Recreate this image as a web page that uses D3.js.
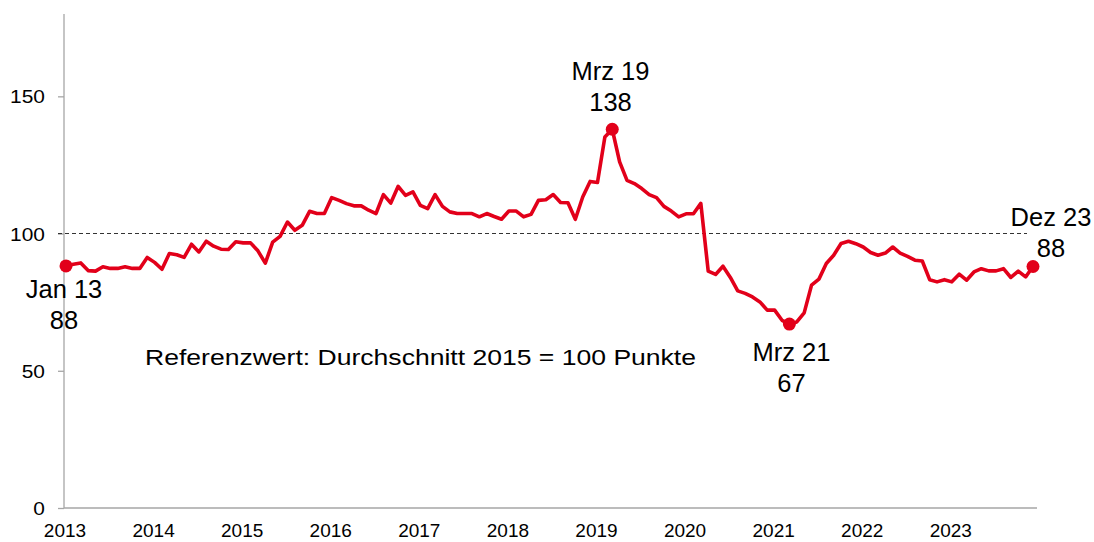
<!DOCTYPE html>
<html><head><meta charset="utf-8">
<script src="https://cdn.jsdelivr.net/npm/d3@7"></script>
<style>
html,body{margin:0;padding:0;background:#fff;}
svg{display:block;font-family:"Liberation Sans",Arial,sans-serif;}
</style></head>
<body>
<svg id="chart" width="1094" height="542"></svg>
<script>
// Monthly index values Jan 2013 .. Dec 2023 (2015 = 100)
const startYear = 2013;
const values2013_2015 = [88.2,88.8,89.3,86.5,86.3,87.9,87.3,87.3,87.9,87.3,87.3,91.3,
  89.5,87.0,92.7,92.3,91.3,96.1,93.3,97.2,95.4,94.3,94.2,97.0,
  96.6,96.6,93.7,89.2,96.9,99.0,104.2,101.2,103.0,108.1,107.3,107.3];
const values2016_2018 = [113.1,112.1,110.9,110.1,110.1,108.5,107.3,114.2,111.1,117.2,113.9,115.2,
  110.3,109.1,114.2,109.9,107.9,107.3,107.3,107.3,106.1,107.3,106.2,105.2,
  108.2,108.2,106.1,107.0,112.1,112.3,114.2,111.3,111.2,105.2,113.3,119.0];
const values2019_2021 = [118.6,135.2,138,126.1,119.4,118.2,116.4,114.2,113.1,109.9,108.2,106.1,
  107.2,107.2,111.0,86.3,85.1,88.1,84.0,79.1,78.2,76.9,75.1,72.1,
  72.1,68.4,67,67.8,71.1,81.2,83.4,89.1,92.1,96.4,97.2,96.3];
const values2022_2023 = [95.1,93.1,92.1,92.9,95.1,92.9,91.7,90.3,90.0,83.2,82.4,83.2,
  82.4,85.2,83.0,86.0,87.2,86.4,86.4,87.2,84.0,86.3,84.2,88];
const values = [...values2013_2015, ...values2016_2018, ...values2019_2021, ...values2022_2023];

const yearLabels = ["2013","2014","2015","2016","2017","2018","2019","2020","2021","2022","2023"];
const yTicks = [0, 50, 100, 150];
const referenceValue = 100;
const referenceText = "Referenzwert: Durchschnitt 2015 = 100 Punkte";

// highlighted points: month index, label, value label
const highlightIdx = [0, 74, 98, 131];
const highlightNames = ["Jan 13", "Mrz 19", "Mrz 21", "Dez 23"];
const highlightValues = ["88", "138", "67", "88"];

const svg = d3.select("#chart");
const red = "#e2001a";
const axisGrey = "#a6a6a6";

const x = d3.scaleLinear().domain([0, 131]).range([66, 1033]);
const y = d3.scaleLinear().domain([0, 180]).range([508, 14]);

// axes lines
svg.append("line").attr("x1", 64).attr("x2", 64).attr("y1", y(180)).attr("y2", y(0))
  .attr("stroke", axisGrey).attr("stroke-width", 1.3);
svg.append("line").attr("x1", 64).attr("x2", 1037).attr("y1", y(0)).attr("y2", y(0))
  .attr("stroke", axisGrey).attr("stroke-width", 1.3);

// y ticks via axis
const yAxis = d3.axisLeft(y).tickValues(yTicks).tickSize(6).tickFormat("");
const gy = svg.append("g").attr("transform", "translate(64,0)").call(yAxis);
gy.select(".domain").remove();
gy.selectAll(".tick line").attr("stroke", axisGrey).attr("stroke-width", 1.3);

// y tick labels (slightly stretched horizontally like the reference)
svg.append("g").selectAll("text").data(yTicks).join("text")
  .attr("transform", d => `translate(45,${y(d) + 7}) scale(1.1,1)`)
  .attr("text-anchor", "end")
  .attr("font-size", 19).attr("fill", "#000")
  .text(d => d);

// x labels
svg.append("g").selectAll("text").data(yearLabels).join("text")
  .attr("x", (d, i) => x(i * 12) - 1)
  .attr("y", 537)
  .attr("text-anchor", "middle")
  .attr("font-size", 19).attr("fill", "#000")
  .text(d => d);

// reference dashed line
svg.append("line").attr("x1", 58).attr("x2", 1027)
  .attr("y1", y(referenceValue)).attr("y2", y(referenceValue))
  .attr("stroke", "#333").attr("stroke-width", 1.1).attr("stroke-dasharray", "4,3");

// data line
const line = d3.line().x((d, i) => x(i)).y(d => y(d));
svg.append("path").datum(values).attr("d", line)
  .attr("fill", "none").attr("stroke", red).attr("stroke-width", 3.6)
  .attr("stroke-linejoin", "round").attr("stroke-linecap", "round");

// highlight dots
svg.append("g").selectAll("circle").data(highlightIdx).join("circle")
  .attr("cx", d => x(d)).attr("cy", d => y(values[d])).attr("r", 6.5).attr("fill", red);

// annotation labels
const labelPos = [
  {cx: 64, by: 298},
  {cx: 610.5, by: 79.5},
  {cx: 791.5, by: 360.5},
  {cx: 1051, by: 225.5}
];
const ann = svg.append("g");
highlightIdx.forEach((d, k) => {
  const p = labelPos[k];
  ann.append("text").attr("x", p.cx).attr("y", p.by).attr("text-anchor", "middle")
    .attr("font-size", 25.5).attr("fill", "#000").text(highlightNames[k]);
  ann.append("text").attr("x", p.cx).attr("y", p.by + 31).attr("text-anchor", "middle")
    .attr("font-size", 25.5).attr("fill", "#000").text(highlightValues[k]);
});

// reference note
svg.append("text").attr("x", 145).attr("y", 364.5)
  .attr("font-size", 22.3).attr("fill", "#000")
  .attr("textLength", 551).attr("lengthAdjust", "spacingAndGlyphs")
  .text(referenceText);
</script>
</body></html>
